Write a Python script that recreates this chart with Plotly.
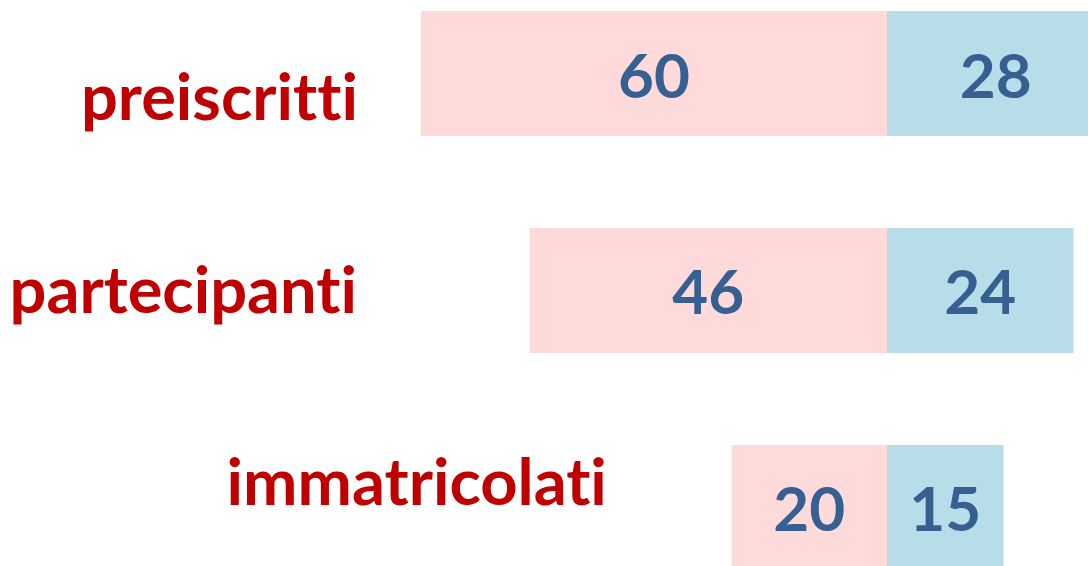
import plotly.graph_objects as go

categories = ["preiscritti", "partecipanti", "immatricolati"]
left_values = [60, 46, 20]
right_values = [28, 24, 15]

ypos = list(range(len(categories)))
PINK = "#FFDADB"
BLUE = "#B7DDE8"
NUM = "#376092"
RED = "#C00000"
FONT = "Lato"

fig = go.Figure()
fig.add_trace(go.Bar(
    y=ypos, x=left_values, base=[-v for v in left_values], orientation="h",
    width=0.576, marker=dict(color=PINK, line=dict(width=0)),
    text=[str(v) for v in left_values], textposition="inside",
    insidetextanchor="middle", textangle=0, constraintext="none",
    textfont=dict(family=FONT, size=62, color=NUM, weight="bold"),
    hoverinfo="skip",
))
fig.add_trace(go.Bar(
    y=ypos, x=right_values, base=[0] * len(right_values), orientation="h",
    width=0.576, marker=dict(color=BLUE, line=dict(width=0)),
    text=[str(v) for v in right_values], textposition="inside",
    insidetextanchor="middle", textangle=0, constraintext="none",
    textfont=dict(family=FONT, size=62, color=NUM, weight="bold"),
    hoverinfo="skip",
))

label_x = [-67.95, -67.8, -35.8]
label_y = [0.10, -0.013, -0.128]
for name, lx, ly in zip(categories, label_x, label_y):
    fig.add_annotation(
        x=lx, y=ypos[categories.index(name)] + ly, xref="x", yref="y",
        text=name, showarrow=False, xanchor="right", yanchor="middle",
        font=dict(family=FONT, size=65, color=RED, weight="bold"),
    )

fig.update_layout(
    width=1088, height=566, margin=dict(l=0, r=0, t=0, b=0),
    paper_bgcolor="white", plot_bgcolor="white",
    barmode="overlay", showlegend=False,
    uniformtext=dict(mode=False),
    xaxis=dict(range=[-114.16, 25.87], visible=False, fixedrange=True),
    yaxis=dict(range=[2.27, -0.339], visible=False, fixedrange=True),
)

post = (
    "document.body.style.margin='0';"
    "document.querySelectorAll('text').forEach(function(t){"
    "t.style.fontVariantLigatures='none';});"
)
fig.write_html("out.html", post_script=post, config={"displayModeBar": False})
